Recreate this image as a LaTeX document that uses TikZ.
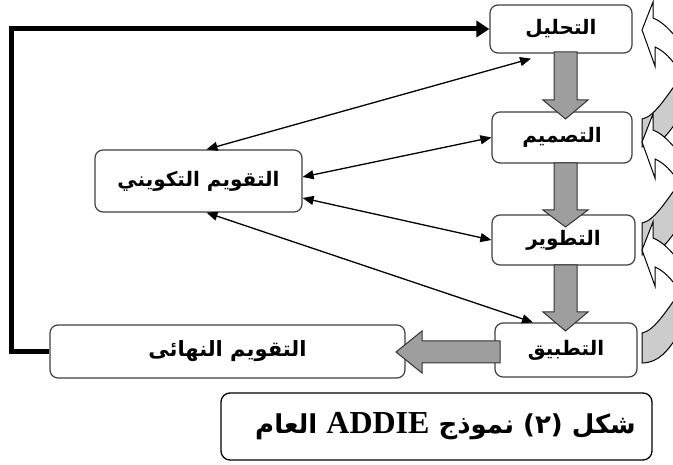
\documentclass[tikz,border=0pt]{standalone}
\usepackage{fontspec}
\usetikzlibrary{arrows.meta,calc}
\TeXXeTstate=1
\newfontfamily\arabicfont[Script=Arabic]{DejaVu Sans}
\newfontfamily\capserif{Liberation Serif}
\newcommand\blkdown[4]{%
  \draw[blk] (#1-11.5,#2) -- (#1+11.5,#2) -- (#1+11.5,#3) -- (#1+22.5,#3) -- (#1,#4) -- (#1-22.5,#3) -- (#1-11.5,#3) -- cycle;}
\newcommand\ctail[2]{%
  \draw[tailst] (642,#1) -- (642,#2) .. controls (658,#2) and (668,#2-12) .. (678,#2-28) -- (678,#1-38) .. controls (666,#1-22) and (654,#1-2) .. cycle;}
\newcommand\chead[1]{%
  \draw[headst] (653,#1-28) -- (642,#1) -- (655,#1+36) -- (655,#1+17) .. controls (664,#1+21) and (672,#1+29) .. (680,#1+42) -- (680,#1+12) .. controls (670,#1) and (663,#1-8) .. (653,#1-12) -- cycle;}
\begin{document}
\begin{tikzpicture}[x=1pt,y=-1pt,
  box/.style={draw=black!75, line width=1.2pt, rounded corners=8pt, fill=white, inner sep=0pt,
    font=\arabicfont\bfseries\fontsize{20}{24}\selectfont},
  dbl/.style={line width=1.3pt, {Triangle[length=11pt,width=9pt]}-{Triangle[length=11pt,width=9pt]}},
  thick line/.style={line width=5pt, -{Triangle[length=13pt,width=16pt]}},
  blk/.style={draw=black!80, line width=1pt, fill=black!38},
  tailst/.style={draw=black, line width=1pt, fill=black!20},
  headst/.style={draw=black, line width=1pt, fill=white}]
\useasboundingbox (0,0) rectangle (673,465);
\fill[white] (0,0) rectangle (673,465);
% curved arrows on the right edge
\begin{scope}
  \clip (0,0) rectangle (673,465);
  \ctail{119}{147}
  \ctail{223}{255}
  \ctail{333}{363}
  \chead{30}
  \chead{142}
  \chead{250}
\end{scope}
% boxes
\node[box, minimum width=142pt, minimum height=48pt] (A) at (561,29) {\beginR التحليل\endR\hspace{24pt}};
\node[box, minimum width=140pt, minimum height=51pt] (D) at (562,137.5) {\beginR التصميم\endR\hspace{22pt}};
\node[box, minimum width=143pt, minimum height=50pt] (V) at (563.5,240) {\beginR التطوير\endR\hspace{26pt}};
\node[box, minimum width=142pt, minimum height=54pt] (I) at (566,350) {\beginR التطبيق\endR\hspace{26pt}};
\node[box, minimum width=207pt, minimum height=62pt] (F) at (198.5,181) {\beginR التقويم التكويني\endR};
\node[box, minimum width=355pt, minimum height=53pt, font=\arabicfont\bfseries\fontsize{21}{24}\selectfont] (S) at (227.5,351.5) {\beginR التقويم النهائى\endR\hspace{10pt}};
\node[draw=black, line width=1.3pt, rounded corners=9pt, minimum width=431pt, minimum height=67pt, inner sep=0pt,
  font=\arabicfont\bfseries\fontsize{26}{30}\selectfont] (C) at (436.5,426.5)
  {\hspace{18pt}\beginR شكل (٢) نموذج \beginL{\capserif\bfseries\fontsize{32}{34}\selectfont ADDIE}\endL{} العام\endR};
% thick feedback line
\draw[thick line] (S.west) -- ++(-38,0) |- (A.west);
% double arrows
\draw[dbl] ([xshift=8pt]F.north) -- ([xshift=-30pt,yshift=-5pt]A.south);
\draw[dbl] ([yshift=4pt]F.east) -- (D.west);
\draw[dbl] ([yshift=-17pt]F.east) -- (V.west);
\draw[dbl] ([xshift=8pt]F.south) -- ([xshift=-33pt]I.north);
% block arrows
\blkdown{565.5}{52}{100}{119}
\blkdown{565.5}{163}{210}{227}
\blkdown{565.5}{265}{312}{331}
\draw[blk] (500,341) -- (422,341) -- (422,331) -- (396,352) -- (422,373) -- (422,363) -- (500,363) -- cycle;
\end{tikzpicture}
\end{document}
